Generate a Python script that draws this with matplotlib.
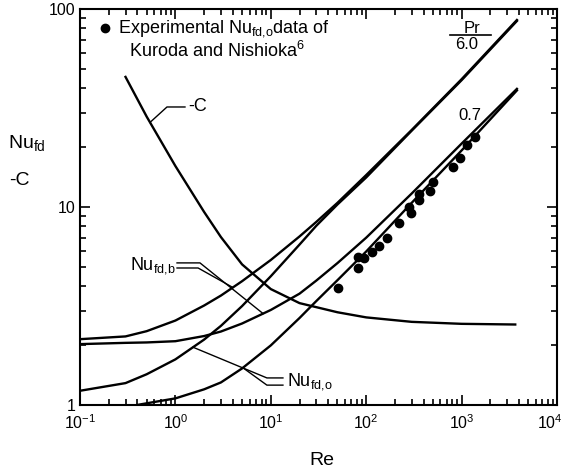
import matplotlib
matplotlib.use('Agg')
import matplotlib.pyplot as plt
import matplotlib.transforms as mtransforms
import numpy as np
from matplotlib.ticker import LogLocator, NullFormatter

plt.rcParams['font.family'] = ['Liberation Sans', 'DejaVu Sans']
plt.rcParams['mathtext.fontset'] = 'custom'
plt.rcParams['mathtext.rm'] = 'Liberation Sans'
plt.rcParams['mathtext.it'] = 'Liberation Sans'
plt.rcParams['mathtext.bf'] = 'Liberation Sans:bold'

re_grid = [0.1, 0.3, 0.5, 1, 2, 3, 5, 10, 20, 30, 50, 100, 300, 1000, 3800]
# Nu_fd,b , Pr = 6.0
nu_b6 = [2.15, 2.22, 2.36, 2.67, 3.18, 3.57, 4.22, 5.40, 7.10, 8.41, 10.5,
         14.5, 24.5, 44.2, 88]
# Nu_fd,o , Pr = 6.0
nu_o6 = [1.18, 1.29, 1.43, 1.70, 2.14, 2.51, 3.16, 4.47, 6.46, 8.04, 10.3,
         14.1, 24.3, 43.7, 87]
# Nu_fd,b , Pr = 0.7
nu_b07 = [2.03, 2.06, 2.07, 2.10, 2.23, 2.35, 2.58, 3.02, 3.65, 4.25, 5.21,
          7.0, 11.7, 20.9, 39.5]
# Nu_fd,o , Pr = 0.7
nu_o07 = [0.89, 0.977, 1.02, 1.08, 1.20, 1.30, 1.53, 2.0, 2.75, 3.35, 4.27,
          5.96, 10.5, 19.3, 38.8]
# -C
re_c = [0.3, 0.5, 1, 2, 3, 5, 10, 20, 50, 100, 300, 1000, 3650]
c_val = [45.4, 28.6, 16.1, 9.44, 7.05, 5.13, 3.85, 3.27, 2.94, 2.77, 2.63,
         2.57, 2.55]

# Kuroda and Nishioka data
re_exp = [51, 81.5, 81.5, 95.5, 114, 136, 164, 221, 283, 295, 357, 357,
          467, 505, 807, 962, 1130, 1380]
nu_exp = [3.88, 4.90, 5.61, 5.51, 5.95, 6.36, 6.95, 8.33, 9.96, 9.36, 10.8,
          11.6, 12.1, 13.4, 16.0, 17.6, 20.6, 22.6]


def on_curve(re, xs, ys):
    # value of a curve at re (log-log)
    return 10 ** np.interp(np.log10(re), np.log10(xs), np.log10(ys))


fig = plt.figure(figsize=(5.68, 4.73), dpi=100)
ax = fig.add_axes([80 / 568, 68 / 473, 477 / 568, 396 / 473])

for ys in [nu_b6, nu_o6, nu_b07, nu_o07]:
    ax.plot(re_grid, ys, color='black', lw=1.7)
ax.plot(re_c, c_val, color='black', lw=1.7)

ax.plot(re_exp, nu_exp, 'o', color='black', ms=6, zorder=3)

ax.set_xscale('log')
ax.set_yscale('log')
ax.set_xlim(0.1, 1e4)
ax.set_ylim(1, 100)

ax.set_yticks([1, 10, 100])
ax.set_yticklabels(['1', '10', '100'])
ax.yaxis.set_minor_locator(LogLocator(base=10, subs=np.arange(2, 10)))
ax.yaxis.set_minor_formatter(NullFormatter())
ax.set_xticks([0.1, 1, 10, 100, 1000, 10000])
ax.set_xticklabels([r'$10^{-1}$', r'$10^{0}$', r'$10^{1}$', r'$10^{2}$',
                    r'$10^{3}$', r'$10^{4}$'])
ax.xaxis.set_minor_locator(LogLocator(base=10, subs=np.arange(2, 10), numticks=20))
ax.xaxis.set_minor_formatter(NullFormatter())

ax.tick_params(which='both', direction='in', top=True, right=True,
               labelsize=11.5, width=1.2)
ax.tick_params(which='major', length=7)
ax.tick_params(which='minor', length=4)
ax.tick_params(axis='x', pad=6)
ax.tick_params(axis='y', pad=3)
for s in ax.spines.values():
    s.set_linewidth(1.5)

# pull the 10^4 label a little inside the figure
lab = ax.get_xticklabels()[-1]
lab.set_transform(lab.get_transform() +
                  mtransforms.ScaledTranslation(-5 / 72, 0, fig.dpi_scale_trans))

# Nu_fd,b label with two leader lines
ax.plot([1.04, 1.81, 8.3], [5.22, 5.22, on_curve(8.3, re_grid, nu_b07)],
        color='black', lw=1)
ax.plot([1.04, 1.73, 4.0], [4.92, 4.92, on_curve(4.0, re_grid, nu_b6)],
        color='black', lw=1)
ax.text(1.0, 5.07, r'Nu$_{\mathrm{fd{,}b}}$', fontsize=13, ha='right', va='center')

# Nu_fd,o label with two leader lines
ax.plot([1.53, 9.1, 13.4], [on_curve(1.53, re_grid, nu_o6), 1.37, 1.37],
        color='black', lw=1)
ax.plot([5.1, 9.1, 13.4], [on_curve(5.1, re_grid, nu_o07), 1.26, 1.26],
        color='black', lw=1)
ax.text(14.8, 1.32, r'Nu$_{\mathrm{fd{,}o}}$', fontsize=13, ha='left', va='center')

# -C label
ax.plot([0.542, 0.816, 1.26], [on_curve(0.542, re_c, c_val), 32.0, 32.0],
        color='black', lw=1)
ax.text(1.38, 32.0, '-C', fontsize=13, ha='left', va='center')

# legend
ax.plot([0.183], [80.2], 'o', color='black', ms=6)
ax.text(0.25, 75.7, r'Experimental Nu$_{\mathrm{fd{,}o}}$data of', fontsize=13,
        ha='left', va='baseline')
ax.text(0.33, 57.2, r'Kuroda and Nishioka$^{6}$', fontsize=13,
        ha='left', va='baseline')

# Pr labels
ax.text(0.822, 0.952, 'Pr', transform=ax.transAxes, fontsize=12,
        ha='center', va='center')
ax.plot([0.776, 0.862], [0.934, 0.934], transform=ax.transAxes,
        color='black', lw=1.2)
ax.text(0.811, 0.910, '6.0', transform=ax.transAxes, fontsize=12,
        ha='center', va='center')
ax.text(0.818, 0.730, '0.7', transform=ax.transAxes, fontsize=12,
        ha='center', va='center')

fig.text(0.014, 0.698, r'Nu$_{\mathrm{fd}}$', fontsize=14, ha='left', va='center')
fig.text(0.016, 0.619, '-C', fontsize=14, ha='left', va='center')
fig.text(0.567, 0.027, 'Re', fontsize=14, ha='center', va='center')

fig.savefig('out.png', dpi=100)
